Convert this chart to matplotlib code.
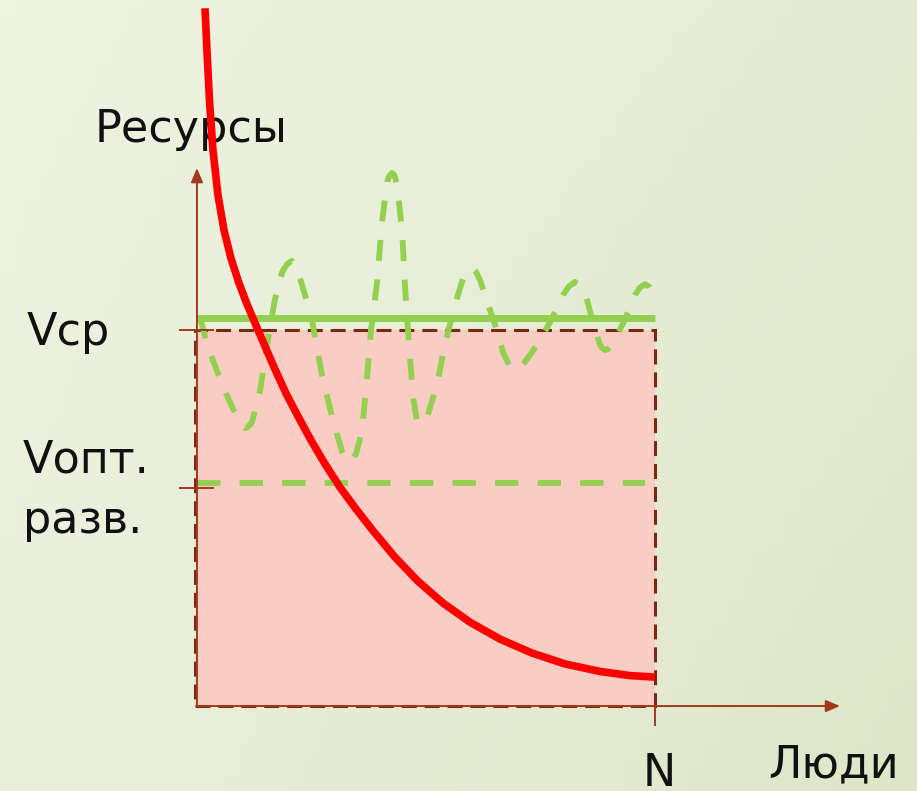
import matplotlib
matplotlib.use("Agg")
import matplotlib.pyplot as plt
import numpy as np
from matplotlib.patches import Rectangle

plt.rcParams['font.family'] = ['DejaVu Sans']

# units: x in % of N, y in % of Vср
N = 100
V_sr = 100
V_sr_line = 103.2
V_opt = 59.3
V_opt_tick = 58.0

# red curve: resources per person
red_x = [1.75, 2.18, 2.73, 3.49, 4.59, 5.90, 7.42, 9.17, 10.92, 12.88, 14.85,
         17.03, 19.43, 22.05, 24.89, 27.95, 31.22, 34.72, 38.65, 43.23, 48.25,
         53.71, 59.61, 66.16, 73.14, 80.35, 87.99, 94.54, 100.0]
red_y = [185.6, 174.5, 161.2, 147.9, 135.9, 126.6, 119.1, 112.5, 106.9, 101.3,
         95.7, 89.6, 83.2, 77.1, 70.7, 64.4, 58.2, 52.4, 46.3, 39.6, 33.2, 27.4,
         22.3, 17.8, 14.1, 11.2, 9.2, 8.1, 7.7]

# green dashed oscillation
osc_x = [0.7, 2.4, 5.7, 9.0, 9.7, 10.5, 11.2, 12.0, 13.8, 15.3, 17.0, 18.6, 19.7,
         20.7, 21.6, 22.5, 24.9, 27.3, 29.5, 31.7, 32.3, 33.0, 33.8, 34.7, 36.0,
         36.9, 38.0, 39.3, 40.4, 41.5, 42.0, 42.6, 43.1, 43.7, 44.8, 45.4, 46.3,
         47.2, 48.0, 48.5, 48.9, 49.6, 50.4, 52.4, 54.1, 56.3, 58.1, 59.0, 60.0,
         60.9, 61.8, 65.1, 66.8, 68.3, 69.0, 69.7, 70.5, 71.6, 74.2, 77.1, 79.9,
         81.2, 82.5, 83.6, 84.7, 86.5, 88.0, 88.5, 89.1, 89.8, 90.6, 93.4, 95.6,
         96.7, 97.8, 98.7, 99.3, 100.0]
osc_y = [103.2, 95.5, 84.8, 76.1, 74.8, 73.9, 74.3, 75.5, 84.0, 96.0, 108.0,
         115.4, 117.6, 118.4, 117.0, 113.8, 104.0, 88.0, 76.9, 67.6, 66.0, 64.9,
         65.4, 67.0, 72.9, 84.0, 100.0, 112.5, 128.7, 139.4, 141.0, 141.8, 141.2,
         138.6, 126.1, 112.0, 96.0, 81.9, 76.1, 75.4, 75.0, 75.6, 77.4, 85.4,
         96.0, 106.6, 113.8, 115.6, 116.5, 115.5, 113.3, 101.3, 94.1, 90.4, 89.8,
         89.4, 90.0, 91.5, 96.0, 102.1, 109.3, 111.6, 112.8, 112.0, 110.1, 101.9,
         96.0, 95.2, 94.7, 95.0, 96.0, 102.7, 109.3, 111.3, 112.2, 111.6, 110.1,
         108.0]

y_axis_top = 143.1
x_axis_end = 140.4

axis_col = '#a2381c'
border_col = '#7a2812'
green = '#92d050'
red = '#ff0000'
pink = '#f9cdc3'

fig = plt.figure(figsize=(9.17, 7.91), dpi=100)
ax = fig.add_axes([0, 0, 1, 1])
xlim = (-43.0, 157.2)
ylim = (-22.6, 187.8)
ax.set_xlim(xlim)
ax.set_ylim(ylim)
ax.axis('off')

# background gradient
tl = np.array([238, 243, 226]) / 255
tr = np.array([229, 236, 211]) / 255
bl = np.array([234, 240, 219]) / 255
br = np.array([222, 230, 200]) / 255
u = np.linspace(0, 1, 64)[None, :, None]
v = np.linspace(0, 1, 64)[:, None, None]
grad = (1 - v) * ((1 - u) * tl + u * tr) + v * ((1 - u) * bl + u * br)
ax.imshow(grad, extent=(xlim[0], xlim[1], ylim[0], ylim[1]), origin='upper',
          aspect='auto', zorder=0)

# pink area
ax.add_patch(Rectangle((0, 0), N, V_sr, facecolor=pink, edgecolor='none', zorder=1))
ax.add_patch(Rectangle((-0.4, 0), N + 0.4, V_sr, facecolor='none', edgecolor=border_col,
                       lw=2.2, linestyle=(0, (4.9, 2.6)), zorder=2))

# axes with arrows
arrow = dict(arrowstyle='-|>,head_length=0.85,head_width=0.36',
             color=axis_col, lw=1.4, shrinkA=0, shrinkB=0)
ax.annotate('', xy=(0, y_axis_top), xytext=(0, 0), arrowprops=arrow, zorder=5)
ax.annotate('', xy=(x_axis_end, 0), xytext=(0, 0), arrowprops=arrow, zorder=5)
ax.plot([-3.7, 3.5], [V_sr, V_sr], color=axis_col, lw=1.4, zorder=5)
ax.plot([-3.7, 3.5], [V_opt_tick, V_opt_tick], color=axis_col, lw=1.4, zorder=5)
ax.plot([N, N], [0, -5.0], color=axis_col, lw=1.4, zorder=5)

# green lines
ax.plot([0, N], [V_sr_line, V_sr_line], color=green, lw=5, solid_capstyle='butt', zorder=3)
ax.plot([0, 97.8], [V_opt, V_opt], color=green, lw=4.2, dashes=(4.0, 3.3),
        dash_capstyle='butt', zorder=3)
ax.plot(osc_x, osc_y, color=green, lw=4.2, dashes=(3.6, 3.2),
        dash_capstyle='butt', dash_joinstyle='round', zorder=3)

# red curve
ax.plot(red_x, red_y, color=red, lw=5.5, solid_capstyle='butt',
        solid_joinstyle='round', zorder=4)

# labels
fs = 32
tc = '#111111'
ax.text(-22.3, 150.0, 'Ресурсы', fontsize=fs, va='baseline', ha='left', color=tc, zorder=3)
ax.text(-37.1, 96.0, 'Vср', fontsize=fs, va='baseline', ha='left', color=tc)
ax.text(-38.0, 62.0, 'Vопт.', fontsize=fs, va='baseline', ha='left', color=tc)
ax.text(-38.0, 46.0, 'разв.', fontsize=fs, va='baseline', ha='left', color=tc)
ax.text(100.9, -21.2, 'N', fontsize=fs, va='baseline', ha='center', color=tc)
ax.text(124.7, -19.1, 'Люди', fontsize=fs, va='baseline', ha='left', color=tc)

fig.savefig('out.png', dpi=100)
